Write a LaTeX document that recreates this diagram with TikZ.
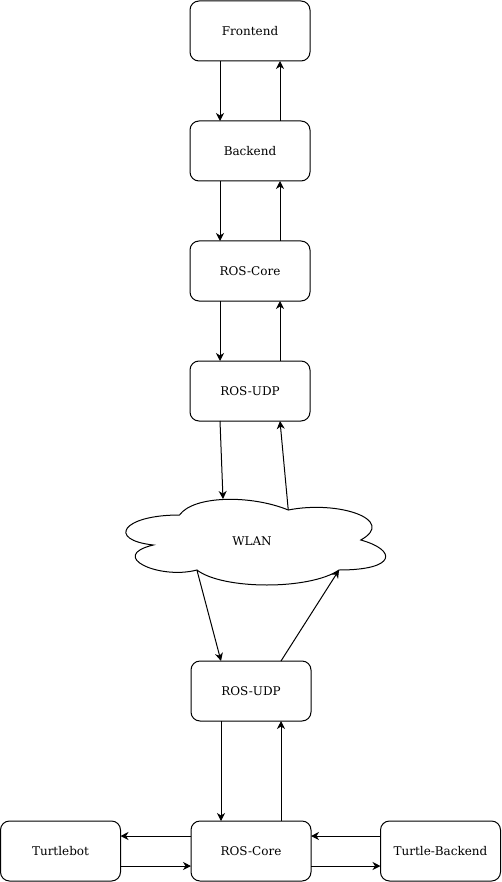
\documentclass[tikz,border=0pt]{standalone}
\usepackage{fontspec}
\setmainfont{DejaVu Serif}
\usetikzlibrary{arrows.meta}
\begin{document}
\begin{tikzpicture}[x=1pt,y=-1pt,
  box/.style={draw,rounded corners=9pt,minimum width=120pt,minimum height=60pt,inner sep=0pt,outer sep=0pt,line width=1pt,font=\fontsize{12pt}{14pt}\selectfont},
  arr/.style={line width=1pt,-{Stealth[length=8pt,width=8pt,inset=2.5pt]}},
  lbl/.style={font=\fontsize{12pt}{14pt}\selectfont}]
\useasboundingbox (0,0) rectangle (501,882);
\node[box] (fe) at (250,31) {Frontend};
\node[box] (be) at (250,151) {Backend};
\node[box] (core1) at (250,271) {ROS-Core};
\node[box] (udp1) at (250,391) {ROS-UDP};
\node[box] (udp2) at (251,691) {ROS-UDP};
\node[box] (core2) at (251,851) {ROS-Core};
\node[box] (tb) at (60.5,851) {Turtlebot};
\node[box] (tbe) at (440.5,851) {Turtle-Backend};
% cloud
\draw[line width=1pt] (179.5,515)
  .. controls (121.5,515) and (107,540) .. (153.4,545)
  .. controls (107,556) and (159.2,580) .. (196.9,570)
  .. controls (223,590) and (310,590) .. (339,570)
  .. controls (397,570) and (397,550) .. (360.75,540)
  .. controls (397,520) and (339,500) .. (288.25,510)
  .. controls (252,495) and (194,495) .. cycle;
\node[lbl] (wlan) at (252,541) {WLAN};
\coordinate (wtop) at (223,499);
\coordinate (wtopr) at (288.25,510);
\coordinate (wbl) at (196.9,570);
\coordinate (wbr) at (339,570);
% vertical arrows
\draw[arr] ([xshift=30pt]fe.south west) -- ([xshift=30pt]be.north west);
\draw[arr] ([xshift=90pt]be.north west) -- ([xshift=90pt]fe.south west);
\draw[arr] ([xshift=30pt]be.south west) -- ([xshift=30pt]core1.north west);
\draw[arr] ([xshift=90pt]core1.north west) -- ([xshift=90pt]be.south west);
\draw[arr] ([xshift=30pt]core1.south west) -- ([xshift=30pt]udp1.north west);
\draw[arr] ([xshift=90pt]udp1.north west) -- ([xshift=90pt]core1.south west);
\draw[arr] ([xshift=30pt]udp1.south west) -- (wtop);
\draw[arr] (wtopr) -- ([xshift=90pt]udp1.south west);
\draw[arr] (wbl) -- ([xshift=30pt]udp2.north west);
\draw[arr] ([xshift=90pt]udp2.north west) -- (wbr);
\draw[arr] ([xshift=30pt]udp2.south west) -- ([xshift=30pt]core2.north west);
\draw[arr] ([xshift=90pt]core2.north west) -- ([xshift=90pt]udp2.south west);
% horizontal arrows
\draw[arr] ([yshift=-15pt]core2.north west) -- ([yshift=-15pt]tb.north east);
\draw[arr] ([yshift=15pt]tb.south east) -- ([yshift=15pt]core2.south west);
\draw[arr] ([yshift=-15pt]tbe.north west) -- ([yshift=-15pt]core2.north east);
\draw[arr] ([yshift=15pt]core2.south east) -- ([yshift=15pt]tbe.south west);
\end{tikzpicture}
\end{document}
